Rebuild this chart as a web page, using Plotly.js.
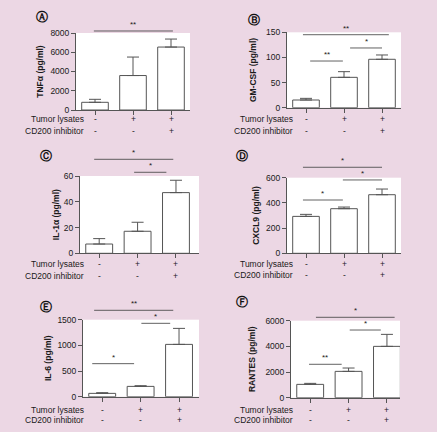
<!DOCTYPE html>
<html><head><meta charset="utf-8">
<script src="https://cdn.plot.ly/plotly-3.0.1.min.js"></script>
<style>html,body{margin:0;padding:0;background:#ecd7e4;}</style>
</head><body><div id="chart" style="width:437px;height:432px;"></div>
<script>
// ---- data ----
const groups = ['Control', 'Tumor lysates', 'Tumor lysates + CD200 inhibitor'];
const tumorLysates = ['-', '+', '+'];
const cd200Inhibitor = ['-', '-', '+'];

const tnfMean = [800, 3580, 6540];
const tnfErr = [310, 1920, 830];
const gmcsfMean = [15.3, 60.4, 96.3];
const gmcsfErr = [3.3, 11.3, 8.6];
const il1aMean = [7.2, 17.1, 47.1];
const il1aErr = [4.2, 7.0, 9.6];
const cxcl9Mean = [293, 354, 465];
const cxcl9Err = [16, 13, 45];
const il6Mean = [65, 201, 1019];
const il6Err = [13, 13, 312];
const rantesMean = [1039, 2052, 4000];
const rantesErr = [78, 260, 935];

const tnfTicks = [0, 2000, 4000, 6000, 8000];
const gmcsfTicks = [0, 50, 100, 150];
const il1aTicks = [0, 20, 40, 60];
const cxcl9Ticks = [0, 200, 400, 600];
const il6Ticks = [0, 500, 1000, 1500];
const rantesTicks = [0, 2000, 4000, 6000];

// significance comparisons: [group i, group j, label]
const tnfSig = [[0, 2, '**']];
const gmcsfSig = [[0, 2, '**'], [0, 1, '**'], [1, 2, '*']];
const il1aSig = [[0, 2, '*'], [1, 2, '*']];
const cxcl9Sig = [[0, 2, '*'], [1, 2, '*'], [0, 1, '*']];
const il6Sig = [[0, 2, '**'], [1, 2, '*'], [0, 1, '*']];
const rantesSig = [[0, 2, '*'], [1, 2, '*'], [0, 1, '**']];

// ---- layout config (positions in pixels) ----
const W = 437, H = 432;
const panels = [
  {letter:'Ⓐ', title:'TNFα (pg/ml)', mean:tnfMean, err:tnfErr, ticks:tnfTicks, sig:tnfSig,
   box:[76,190,33,110], xr:2.5, standoff:5, letterPos:[42,17], rowX:86, rowY:[119,131],
   sigGeom:[[-0.03,2.05,1.026]]},
  {letter:'Ⓑ', title:'GM-CSF (pg/ml)', mean:gmcsfMean, err:gmcsfErr, ticks:gmcsfTicks, sig:gmcsfSig,
   box:[287,401,32.3,107.7], xr:2.5, standoff:8, letterPos:[254,20], rowX:295, rowY:[119,131],
   sigGeom:[[-0.08,2.18,0.968],[0.11,0.97,0.619],[1.16,2.0,0.792]]},
  {letter:'Ⓒ', title:'IL-1α (pg/ml)', mean:il1aMean, err:il1aErr, ticks:il1aTicks, sig:il1aSig,
   box:[80,199,176,253.3], xr:2.6, standoff:2, letterPos:[46,156], rowX:86, rowY:[264,276],
   sigGeom:[[-0.13,1.93,1.216],[0.91,1.75,1.048]]},
  {letter:'Ⓓ', title:'CXCL9 (pg/ml)', mean:cxcl9Mean, err:cxcl9Err, ticks:cxcl9Ticks, sig:cxcl9Sig,
   box:[287,401,177.7,253.3], xr:2.5, standoff:5, letterPos:[242,156], rowX:295, rowY:[264,275],
   sigGeom:[[-0.08,2.0,1.138],[0.97,2.0,0.970],[-0.08,0.97,0.705]]},
  {letter:'Ⓔ', title:'IL-6 (pg/ml)', mean:il6Mean, err:il6Err, ticks:il6Ticks, sig:il6Sig,
   box:[83,199,319.7,396.7], xr:2.52, standoff:4, letterPos:[46,307], rowX:86, rowY:[410,420],
   sigGeom:[[-0.21,1.85,1.122],[1.02,1.77,0.953],[-0.26,0.83,0.429]]},
  {letter:'Ⓕ', title:'RANTES (pg/ml)', mean:rantesMean, err:rantesErr, ticks:rantesTicks, sig:rantesSig,
   box:[291,400,320.7,397.7], xr:2.34, standoff:8, letterPos:[242,302], rowX:295, rowY:[410,420],
   sigGeom:[[0.15,2.2,1.044],[1.03,1.84,0.879],[-0.03,0.82,0.434]]}
];

const FONT = 'Liberation Sans, Arial, sans-serif';
const TXT = '#1a1a1a';
const LINE = '#555';
const SIGLINE = 'rgba(70,70,70,0.85)';

const data = [];
const layout = {
  width: W, height: H,
  margin: {l:0, r:0, t:0, b:0},
  paper_bgcolor: '#ecd7e4',
  plot_bgcolor: '#ffffff',
  showlegend: false,
  font: {family: FONT, size: 8, color: TXT},
  shapes: [], annotations: []
};

panels.forEach((p, k) => {
  const n = k === 0 ? '' : String(k + 1);
  const xa = 'x' + n, ya = 'y' + n;
  const [x0, x1, yt, yb] = p.box;
  data.push({
    type: 'bar', x: [0, 1, 2], y: p.mean, width: 0.7,
    xaxis: xa, yaxis: ya,
    marker: {color: '#ffffff', line: {color: LINE, width: 1}},
    error_y: {type: 'data', symmetric: false, array: p.err, arrayminus: [0, 0, 0],
              color: LINE, thickness: 1, width: 6},
    hovertext: groups, hoverinfo: 'text+y'
  });
  layout['xaxis' + n] = {
    domain: [x0 / W, x1 / W], anchor: ya, range: [-0.5, p.xr],
    showline: true, linecolor: LINE, linewidth: 1,
    ticks: 'outside', ticklen: 4, tickcolor: LINE, tickvals: [0, 1, 2],
    showticklabels: false, showgrid: false, zeroline: false, fixedrange: true
  };
  const ymax = p.ticks[p.ticks.length - 1];
  layout['yaxis' + n] = {
    domain: [1 - yb / H, 1 - yt / H], anchor: xa, range: [0, ymax],
    showline: true, linecolor: LINE, linewidth: 1,
    ticks: 'outside', ticklen: 4, tickcolor: LINE, tickvals: p.ticks,
    tickfont: {size: 8.5, color: TXT, family: FONT},
    showgrid: false, zeroline: false, fixedrange: true,
    title: {text: '<b>' + p.title + '</b>', font: {size: 8.5, color: TXT, family: FONT}, standoff: p.standoff}
  };
  // significance brackets
  p.sig.forEach((s, i) => {
    const g = p.sigGeom[i];
    layout.shapes.push({
      type: 'line', xref: xa, yref: ya + ' domain',
      x0: g[0], x1: g[1], y0: g[2], y1: g[2],
      line: {color: SIGLINE, width: 1}
    });
    layout.annotations.push({
      xref: xa, yref: ya + ' domain', x: (g[0] + g[1]) / 2, y: g[2],
      yanchor: 'bottom', xanchor: 'center', yshift: 0,
      text: s[2], showarrow: false, font: {size: 8, color: TXT, family: FONT}
    });
  });
  // panel letter
  layout.annotations.push({
    xref: 'paper', yref: 'paper', x: p.letterPos[0] / W, y: 1 - p.letterPos[1] / H,
    xanchor: 'center', yanchor: 'middle', text: '<b>' + p.letter + '</b>', showarrow: false,
    font: {size: 12, color: '#111', family: 'DejaVu Sans, sans-serif'}
  });
  // row labels
  ['Tumor lysates', 'CD200 inhibitor'].forEach((lab, r) => {
    layout.annotations.push({
      xref: 'paper', yref: 'paper', x: p.rowX / W, y: 1 - p.rowY[r] / H,
      xanchor: 'right', yanchor: 'middle', text: lab, showarrow: false,
      font: {size: 8.5, color: TXT, family: FONT}
    });
    const syms = r === 0 ? tumorLysates : cd200Inhibitor;
    syms.forEach((sym, c) => {
      layout.annotations.push({
        xref: xa, yref: 'paper', x: c, y: 1 - p.rowY[r] / H,
        xanchor: 'center', yanchor: 'middle', text: sym, showarrow: false,
        font: {size: 8.5, color: TXT, family: FONT}
      });
    });
  });
});

Plotly.newPlot('chart', data, layout, {staticPlot: true, displayModeBar: false});
</script>
</body></html>
